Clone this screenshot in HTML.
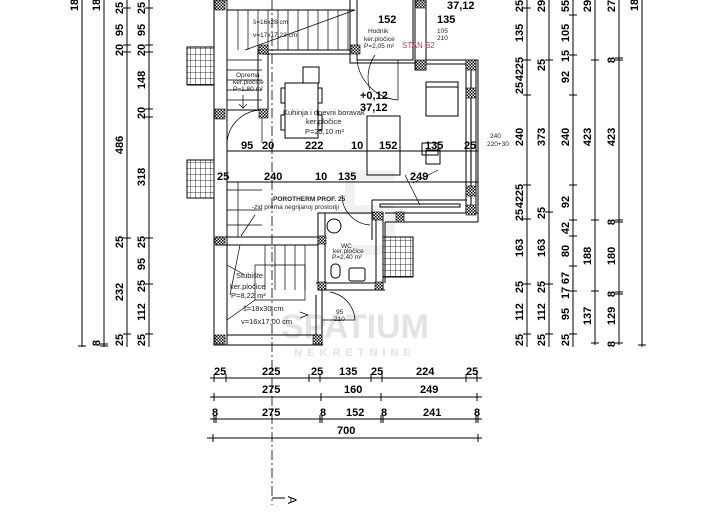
<!DOCTYPE html>
<html><head><meta charset="utf-8"><style>
html,body{margin:0;padding:0;background:#fff;width:713px;height:525px;overflow:hidden}
svg{display:block}
.d{font-family:"Liberation Sans Narrow","Liberation Sans",sans-serif;font-weight:bold;font-size:11px;fill:#000}
.s{font-family:"Liberation Sans",sans-serif;font-size:6.5px;fill:#222}
</style></head><body>
<svg width="713" height="525" viewBox="0 0 713 525" xmlns="http://www.w3.org/2000/svg">
<defs>
<pattern id="h" width="3" height="3" patternUnits="userSpaceOnUse"><rect width="3" height="3" fill="#fff"/><rect width="1.5" height="1.5" fill="#000"/><rect x="1.5" y="1.5" width="1.5" height="1.5" fill="#000"/></pattern>
<pattern id="g" width="5" height="6" patternUnits="userSpaceOnUse"><rect width="5" height="6" fill="#fff"/><path d="M0 0H5M0 0V6" stroke="#000" stroke-width="0.8"/></pattern>
</defs>
<!-- watermark -->
<text x="355" y="338" font-family="Liberation Sans" font-size="34" font-weight="bold" fill="#ddd" text-anchor="middle" opacity="0.8">SPATIUM</text>
<text x="355" y="356" font-family="Liberation Sans" font-size="11" font-weight="bold" fill="#e2e2e2" text-anchor="middle" letter-spacing="5">NEKRETNINE</text>
<path d="M345 170h50v10h-40v25h40v50h-50v-10h40v-30h-40z" fill="#e8e8e8" opacity="0.6"/>

<g stroke="#000" fill="none" stroke-width="1">
<!-- outer left walls -->
<rect x="214" y="0" width="13" height="345"/>
<line x1="227" y1="335" x2="322" y2="335"/><line x1="214" y1="345" x2="323" y2="345"/>
<line x1="322" y1="290" x2="322" y2="345"/><line x1="316" y1="295" x2="316" y2="335"/>
<line x1="322" y1="290" x2="385" y2="290"/><line x1="316" y1="283" x2="383" y2="283"/>
<!-- stair landing wall -->
<rect x="216" y="237" width="102" height="8"/>
<!-- WC -->
<rect x="318" y="213" width="65" height="77"/>
<line x1="376" y1="213" x2="376" y2="283"/><line x1="325" y1="213" x2="325" y2="283"/>
<rect x="383" y="237" width="30" height="40" fill="url(#g)"/>
<line x1="385" y1="222" x2="478" y2="222"/><line x1="385" y1="213" x2="478" y2="213"/>
<line x1="372" y1="200" x2="467" y2="200"/>
<line x1="372" y1="200" x2="372" y2="240"/>
<rect x="380" y="204" width="80" height="3"/>
<line x1="385" y1="222" x2="385" y2="283"/>
<!-- right room -->
<line x1="478" y1="60" x2="478" y2="222"/>
<rect x="466" y="63" width="10" height="150"/><line x1="471" y1="63" x2="471" y2="213" stroke="#777" stroke-width="2"/>
<line x1="426" y1="60" x2="478" y2="60"/><line x1="426" y1="64" x2="466" y2="64"/>
<rect x="415" y="0" width="11" height="70"/>
<line x1="426" y1="0" x2="426" y2="60"/>
<rect x="426" y="82" width="32" height="34"/><line x1="426" y1="87" x2="458" y2="87"/>
<rect x="367" y="116" width="33" height="59"/>
<rect x="422" y="143" width="16" height="12"/><rect x="426" y="150" width="14" height="14"/>
<!-- hodnik -->
<path d="M357 0V60H413V0"/><path d="M350 0V63H415"/>
<path d="M357 60A45 45 0 0 0 398 100" stroke-width="0.7"/>
<line x1="398" y1="60" x2="398" y2="100" stroke-width="0.7"/>
<!-- top stairs -->
<line x1="227" y1="10" x2="355" y2="10"/><line x1="262" y1="50" x2="350" y2="50"/><line x1="262" y1="54" x2="350" y2="54"/>
<g stroke-width="0.7">
<path d="M238 10V50M248 10V50M258 10V50M268 10V50M278 10V50M288 10V50M298 10V50M308 10V50M318 10V50M328 10V50M338 10V50M348 10V50"/>
<path d="M245 50L355 10"/>
<path d="M227 60H262M227 70H262M227 80H262M227 90H262M227 100H262"/>
<path d="M243 95V108l-4-4M243 108l4-4"/>
<path d="M227 143A35 35 0 0 1 262 110" />
<line x1="262" y1="110" x2="262" y2="143"/>
</g>
<rect x="258" y="50" width="10" height="60"/>
<line x1="227" y1="110" x2="268" y2="110"/>
<!-- dim lines interior -->
<line x1="227" y1="151" x2="478" y2="151"/><line x1="227" y1="182" x2="478" y2="182"/>
<line x1="272" y1="0" x2="272" y2="505" stroke-dasharray="10,3,2,3" stroke-width="0.8"/>
<path d="M272 498H285" />
<!-- kitchen table -->
<rect x="285" y="83" width="33" height="55"/><rect x="303" y="67" width="16" height="16"/>
<rect x="281" y="88" width="4" height="15"/><rect x="281" y="115" width="4" height="15"/>
<rect x="318" y="88" width="4" height="15"/><rect x="318" y="115" width="4" height="15"/>
<!-- lower stair -->
<g stroke-width="0.7">
<path d="M227 190H262M227 210H262M227 225H262M238 182V237"/>
<path d="M265 245V290M275 245V290M285 245V290M295 245V290M305 245V290"/>
<path d="M255 265H305V300H255z"/>
<path d="M227 265L245 275M227 320L255 300M240 245L230 295"/>
<path d="M255 215L241 236"/>
<path d="M330 292A30 30 0 0 1 355 320" /><line x1="323" y1="320" x2="355" y2="320"/>
<path d="M300 312l8 3-8 3"/>
<path d="M375 55A40 40 0 0 0 370 90"/>
<path d="M413 183L438 170M420 205L405 175"/>
<path d="M342 195A30 30 0 0 0 370 225"/>
</g>
<circle cx="334" cy="226" r="7"/>
<rect x="331" y="264" width="9" height="14" rx="4"/><rect x="349" y="268" width="16" height="13" rx="2"/>
</g>
<!-- hatched columns -->
<g fill="url(#h)" stroke="#000" stroke-width="0.6">
<rect x="215" y="0" width="10" height="10"/><rect x="215" y="109" width="10" height="10"/><rect x="215" y="237" width="10" height="8"/><rect x="215" y="335" width="10" height="9"/>
<rect x="259" y="45" width="9" height="9"/><rect x="259" y="109" width="9" height="9"/><rect x="351" y="45" width="9" height="9"/>
<rect x="416" y="60" width="10" height="10"/><rect x="466" y="60" width="10" height="10"/><rect x="466" y="88" width="10" height="10"/>
<rect x="466" y="186" width="10" height="10"/><rect x="466" y="205" width="10" height="10"/><rect x="373" y="212" width="10" height="8"/>
<rect x="318" y="236" width="8" height="8"/><rect x="375" y="282" width="8" height="8"/><rect x="318" y="282" width="8" height="8"/>
<rect x="313" y="335" width="9" height="9"/><rect x="416" y="0" width="10" height="8"/><rect x="396" y="212" width="8" height="10"/>
</g>
<rect x="187" y="47" width="27" height="38" fill="url(#g)" stroke="#000"/>
<rect x="187" y="160" width="27" height="38" fill="url(#g)" stroke="#000"/>

<!-- labels -->
<g class="s">
<text x="253" y="24">š=16x28 cm</text><text x="253" y="37">v=17x17,23 cm</text>
<text x="236" y="77">Oprema</text><text x="233" y="84">ker.pločice</text><text x="233" y="91">P=1,80 m²</text>
<text x="283" y="115" font-size="7.5">Kuhinja i dnevni boravak</text><text x="306" y="124" font-size="7.5">ker.pločice</text><text x="305" y="134" font-size="7.5">P=25,10 m²</text>
<text x="368" y="33">Hodnik</text><text x="364" y="41">ker.pločice</text><text x="364" y="48">P=2,05 m²</text>
<text x="402" y="48" fill="#c0395a" font-size="8">STAN S2</text>
<text x="437" y="33">105</text><text x="437" y="40">210</text>
<text x="490" y="138">240</text><text x="487" y="146">220+30</text>
<text x="273" y="201" font-weight="bold">POROTHERM PROF. 25</text><text x="252" y="209">-zid prema negrijanoj prostoriji</text>
<text x="341" y="248">WC</text><text x="333" y="253">ker.pločice</text><text x="332" y="259">P=2,40 m²</text>
<text x="236" y="278" font-size="7.5">Stubište</text><text x="230" y="289" font-size="7.5">ker.pločice</text><text x="231" y="298" font-size="7.5">P=8,22 m²</text>
<text x="243" y="311" font-size="7.5">š=18x30 cm</text><text x="241" y="324" font-size="7.5">v=16x17,00 cm</text>
<text x="336" y="314">95</text><text x="334" y="321">210</text>
</g>
<g class="d">
<text x="360" y="99">+0,12</text><text x="360" y="111">37,12</text>
<text x="447" y="9">37,12</text>
<text x="378" y="23">152</text><text x="437" y="23">135</text>
<text x="241" y="149">95</text><text x="262" y="149">20</text><text x="305" y="149">222</text><text x="351" y="149">10</text><text x="379" y="149">152</text><text x="425" y="149">135</text><text x="464" y="149">25</text>
<text x="217" y="180">25</text><text x="264" y="180">240</text><text x="315" y="180">10</text><text x="338" y="180">135</text><text x="410" y="180">249</text>
<text x="214" y="375">25</text><text x="262" y="375">225</text><text x="311" y="375">25</text><text x="339" y="375">135</text><text x="371" y="375">25</text><text x="416" y="375">224</text><text x="466" y="375">25</text>
<text x="262" y="393">275</text><text x="344" y="393">160</text><text x="420" y="393">249</text>
<text x="212" y="416">8</text><text x="262" y="416">275</text><text x="320" y="416">8</text><text x="346" y="416">152</text><text x="381" y="416">8</text><text x="423" y="416">241</text><text x="474" y="416">8</text>
<text x="337" y="434">700</text>
</g>
<g stroke="#000" stroke-width="1">
<line x1="210" y1="378" x2="482" y2="378"/><line x1="210" y1="397" x2="482" y2="397"/><line x1="210" y1="419" x2="482" y2="419"/><line x1="207" y1="438" x2="482" y2="438"/>
<path d="M214 374v8M226 374v8M309 374v8M320 374v8M371 374v8M382 374v8M466 374v8M477 374v8M214 393v8M321 393v8M381 393v8M477 393v8M214 415v8M216 415v8M320 415v8M322 415v8M381 415v8M383 415v8M476 415v8M478 415v8M213 434v8M478 434v8"/>
<!-- left vertical lines -->
<line x1="82" y1="0" x2="82" y2="347"/><line x1="104" y1="0" x2="104" y2="347"/><line x1="127" y1="0" x2="127" y2="347"/><line x1="149" y1="0" x2="149" y2="347"/>
<path d="M78 346h8M100 344h8M100 346h8M123 8h8M123 45h8M123 52h8M123 238h8M123 334h8M145 8h8M145 45h8M145 52h8M145 109h8M145 117h8M145 238h8M145 284h8M145 334h8"/>
<!-- right vertical lines -->
<line x1="527" y1="0" x2="527" y2="347"/><line x1="549" y1="0" x2="549" y2="347"/><line x1="573" y1="0" x2="573" y2="347"/><line x1="595" y1="0" x2="595" y2="345"/><line x1="619" y1="0" x2="619" y2="345"/><line x1="642" y1="0" x2="642" y2="347"/>
<path d="M523 8h8M523 60h8M523 95h8M523 185h8M523 219h8M523 284h8M523 334h8M545 60h8M545 212h8M545 284h8M545 334h8M569 15h8M569 55h8M569 95h8M569 185h8M569 220h8M569 236h8M569 266h8M569 291h8M569 334h8M591 60h8M591 220h8M591 291h8M591 343h8M615 58h8M615 60h8M615 220h8M615 222h8M615 292h8M615 294h8M615 343h8M638 345h8"/>
</g>
<g class="d">
<g transform="translate(123,0)">
<text transform="translate(0,8) rotate(-90)" text-anchor="middle">25</text><text transform="translate(0,30) rotate(-90)" text-anchor="middle">95</text><text transform="translate(0,50) rotate(-90)" text-anchor="middle">20</text><text transform="translate(0,145) rotate(-90)" text-anchor="middle">486</text><text transform="translate(0,242) rotate(-90)" text-anchor="middle">25</text><text transform="translate(0,292) rotate(-90)" text-anchor="middle">232</text><text transform="translate(0,340) rotate(-90)" text-anchor="middle">25</text>
</g>
<g transform="translate(145,0)">
<text transform="translate(0,8) rotate(-90)" text-anchor="middle">25</text><text transform="translate(0,30) rotate(-90)" text-anchor="middle">95</text><text transform="translate(0,50) rotate(-90)" text-anchor="middle">20</text><text transform="translate(0,80) rotate(-90)" text-anchor="middle">148</text><text transform="translate(0,113) rotate(-90)" text-anchor="middle">20</text><text transform="translate(0,177) rotate(-90)" text-anchor="middle">318</text><text transform="translate(0,242) rotate(-90)" text-anchor="middle">25</text><text transform="translate(0,264) rotate(-90)" text-anchor="middle">95</text><text transform="translate(0,286) rotate(-90)" text-anchor="middle">25</text><text transform="translate(0,312) rotate(-90)" text-anchor="middle">112</text><text transform="translate(0,340) rotate(-90)" text-anchor="middle">25</text>
</g>
<text transform="translate(78,5) rotate(-90)" text-anchor="middle">18</text><text transform="translate(100,5) rotate(-90)" text-anchor="middle">18</text><text transform="translate(100,343) rotate(-90)" text-anchor="middle">8</text>
<g transform="translate(523,0)">
<text transform="translate(0,6) rotate(-90)" text-anchor="middle">25</text><text transform="translate(0,33) rotate(-90)" text-anchor="middle">135</text><text transform="translate(0,63) rotate(-90)" text-anchor="middle">25</text><text transform="translate(0,75) rotate(-90)" text-anchor="middle">42</text><text transform="translate(0,88) rotate(-90)" text-anchor="middle">25</text><text transform="translate(0,137) rotate(-90)" text-anchor="middle">240</text><text transform="translate(0,190) rotate(-90)" text-anchor="middle">25</text><text transform="translate(0,202) rotate(-90)" text-anchor="middle">42</text><text transform="translate(0,215) rotate(-90)" text-anchor="middle">25</text><text transform="translate(0,248) rotate(-90)" text-anchor="middle">163</text><text transform="translate(0,287) rotate(-90)" text-anchor="middle">25</text><text transform="translate(0,312) rotate(-90)" text-anchor="middle">112</text><text transform="translate(0,340) rotate(-90)" text-anchor="middle">25</text>
</g>
<g transform="translate(545,0)">
<text transform="translate(0,6) rotate(-90)" text-anchor="middle">29</text><text transform="translate(0,65) rotate(-90)" text-anchor="middle">25</text><text transform="translate(0,137) rotate(-90)" text-anchor="middle">373</text><text transform="translate(0,213) rotate(-90)" text-anchor="middle">25</text><text transform="translate(0,248) rotate(-90)" text-anchor="middle">163</text><text transform="translate(0,287) rotate(-90)" text-anchor="middle">25</text><text transform="translate(0,312) rotate(-90)" text-anchor="middle">112</text><text transform="translate(0,340) rotate(-90)" text-anchor="middle">25</text>
</g>
<g transform="translate(569,0)">
<text transform="translate(0,6) rotate(-90)" text-anchor="middle">55</text><text transform="translate(0,33) rotate(-90)" text-anchor="middle">105</text><text transform="translate(0,56) rotate(-90)" text-anchor="middle">15</text><text transform="translate(0,77) rotate(-90)" text-anchor="middle">92</text><text transform="translate(0,137) rotate(-90)" text-anchor="middle">240</text><text transform="translate(0,202) rotate(-90)" text-anchor="middle">92</text><text transform="translate(0,228) rotate(-90)" text-anchor="middle">42</text><text transform="translate(0,251) rotate(-90)" text-anchor="middle">80</text><text transform="translate(0,278) rotate(-90)" text-anchor="middle">67</text><text transform="translate(0,293) rotate(-90)" text-anchor="middle">17</text><text transform="translate(0,314) rotate(-90)" text-anchor="middle">95</text><text transform="translate(0,340) rotate(-90)" text-anchor="middle">25</text>
</g>
<g transform="translate(591,0)">
<text transform="translate(0,6) rotate(-90)" text-anchor="middle">29</text><text transform="translate(0,137) rotate(-90)" text-anchor="middle">423</text><text transform="translate(0,256) rotate(-90)" text-anchor="middle">188</text><text transform="translate(0,316) rotate(-90)" text-anchor="middle">137</text>
</g>
<g transform="translate(615,0)">
<text transform="translate(0,6) rotate(-90)" text-anchor="middle">27</text><text transform="translate(0,60) rotate(-90)" text-anchor="middle">8</text><text transform="translate(0,137) rotate(-90)" text-anchor="middle">423</text><text transform="translate(0,222) rotate(-90)" text-anchor="middle">8</text><text transform="translate(0,256) rotate(-90)" text-anchor="middle">180</text><text transform="translate(0,294) rotate(-90)" text-anchor="middle">8</text><text transform="translate(0,316) rotate(-90)" text-anchor="middle">129</text><text transform="translate(0,344) rotate(-90)" text-anchor="middle">8</text>
</g>
<text transform="translate(638,5) rotate(-90)" text-anchor="middle">18</text>
</g>
<text transform="translate(288,500) rotate(90)" font-family="Liberation Sans" font-size="12" text-anchor="middle">A</text>
</svg>
</body></html>
